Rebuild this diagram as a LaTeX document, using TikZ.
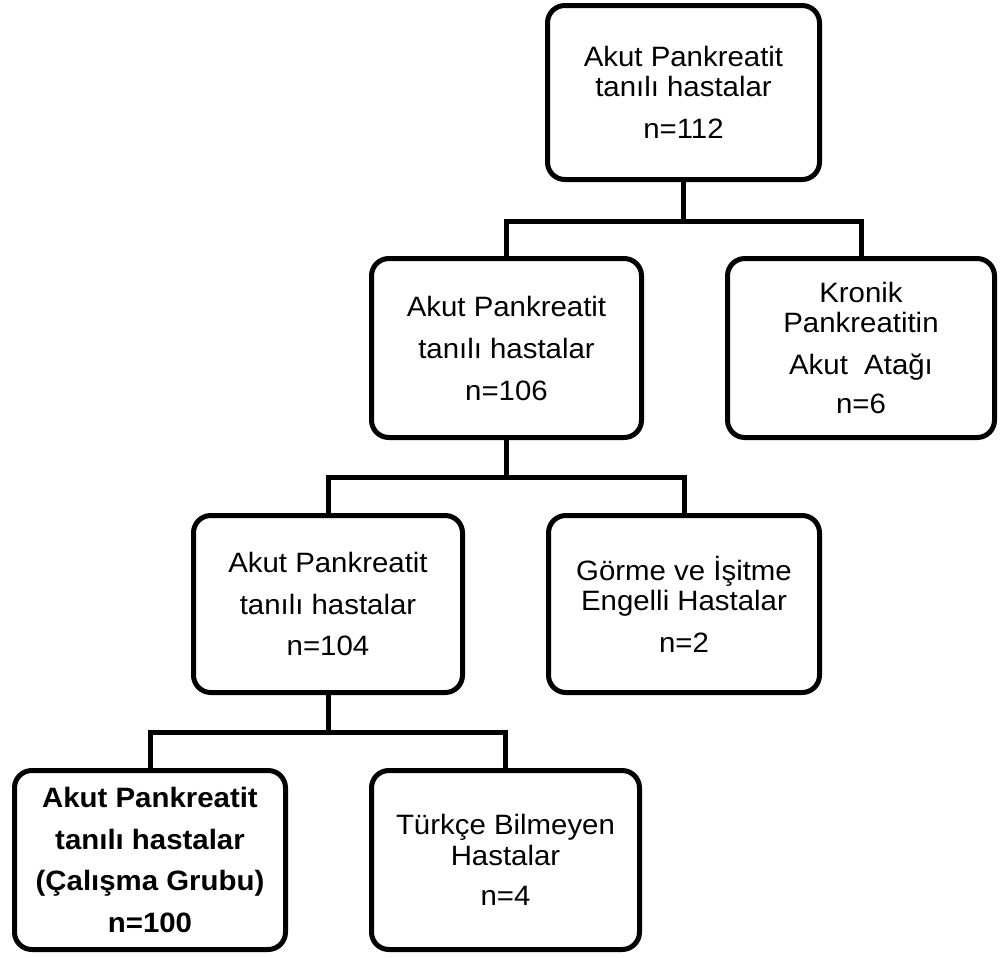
\documentclass[tikz,border=0pt]{standalone}
\usepackage{fontspec}
\setmainfont{Liberation Sans}[FakeStretch=1.05]
\begin{document}
\begin{tikzpicture}[x=0.75pt,y=-0.75pt,
  box/.style={draw, line width=3.75pt, rounded corners=13pt, align=center,
    inner sep=0pt, font=\fontsize{21}{22.5}\selectfont},
  conn/.style={line width=3.75pt}]
\useasboundingbox (0,0) rectangle (1001,958);
\node[box, minimum width=204pt, minimum height=130.5pt] (b1) at (683.5,92.5)
  {Akut Pankreatit\\tanılı hastalar\\[9pt]n=112};
\node[box, minimum width=202.5pt, minimum height=134.25pt] (b2) at (506.5,348)
  {Akut Pankreatit\\[9pt]tanılı hastalar\\[9pt]n=106};
\node[box, minimum width=200.25pt, minimum height=134.25pt] (b3) at (861,348)
  {Kronik\\Pankreatitin\\[9pt]Akut\ \ Atağı\\[7pt]n=6};
\node[box, minimum width=201.75pt, minimum height=132.75pt] (b4) at (328,604)
  {Akut Pankreatit\\[9pt]tanılı hastalar\\[8pt]n=104};
\node[box, minimum width=203.25pt, minimum height=132.75pt] (b5) at (684,604)
  {Görme ve İşitme\\Engelli Hastalar\\[9pt]n=2};
\node[box, minimum width=203.25pt, minimum height=134.25pt, font=\fontsize{21}{22.5}\selectfont\bfseries] (b6) at (150,860)
  {Akut Pankreatit\\[9pt]tanılı hastalar\\[8pt](Çalışma Grubu)\\[9pt]n=100};
\node[box, minimum width=201pt, minimum height=134.25pt] (b7) at (505.5,860)
  {Türkçe Bilmeyen\\[0.5pt]Hastalar\\[8pt]n=4};
\coordinate (j1) at (683.5,221);
\coordinate (j2) at (506.5,477);
\coordinate (j3) at (328,732);
\draw[conn] (b1.south) -- (j1);
\draw[conn] (b2.north) |- (j1) -| (b3.north);
\draw[conn] (b2.south) -- (j2);
\draw[conn] (b4.north) |- (j2) -| (b5.north);
\draw[conn] (b4.south) -- (j3);
\draw[conn] (b6.north) |- (j3) -| (b7.north);
\end{tikzpicture}
\end{document}
